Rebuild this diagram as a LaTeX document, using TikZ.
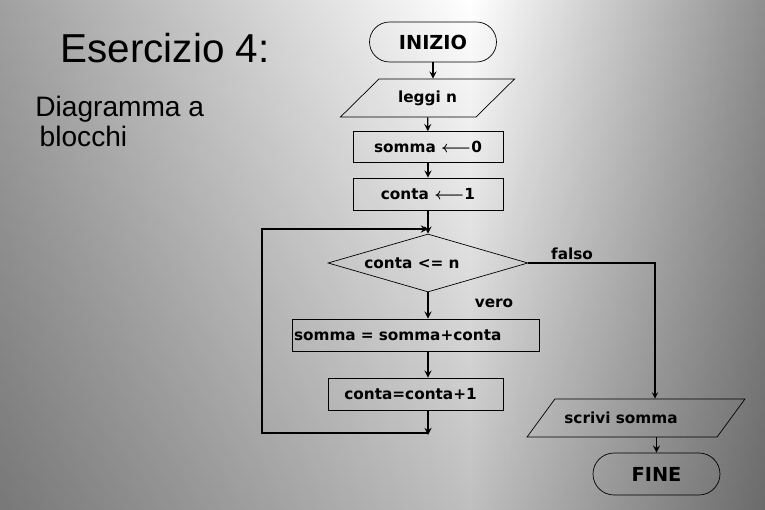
\documentclass[tikz,border=0pt]{standalone}
\usepackage{fontspec}
\setmainfont{Liberation Sans}
\newfontfamily\flowfont{DejaVu Sans}
\usetikzlibrary{shapes.geometric, arrows, positioning, fadings}

\begin{document}
\begin{tikzpicture}[x=0.02cm, y=-0.02cm,
    base/.style={draw, thin, font=\flowfont\bfseries\fontsize{8.7}{10}\selectfont},
    startstop/.style={base, rectangle, rounded corners=0.4cm, minimum width=2.54cm, minimum height=0.8cm, font=\flowfont\bfseries\fontsize{11}{12}\selectfont},
    io/.style={base, trapezium, trapezium stretches=true, trapezium left angle=43.5, trapezium right angle=136.5, minimum height=0.76cm},
    process/.style={base, rectangle, minimum width=3cm, minimum height=0.62cm},
    decision/.style={base, diamond, aspect=3.4, inner sep=0pt, minimum width=4cm, minimum height=1.16cm},
    tag/.style={font=\flowfont\bfseries\fontsize{8.7}{10}\selectfont},
    arrow/.style={->, >=stealth, thick}]

    % background
    \useasboundingbox (0,0) rectangle (765,510);
    \shade[left color=black!37, right color=white] (0,0) rectangle (470,510);
    \shade[left color=white, right color=black!44] (470,0) rectangle (765,510);
    \fill[black, opacity=0.25, path fading=north] (0,0) rectangle (765,510);

    % titles
    \node (titolo) at (165,48) {\fontsize{23}{27}\selectfont Esercizio 4:};
    \node[anchor=north west, inner sep=0pt, align=left, font=\fontsize{16}{17}\selectfont] (sottotitolo) at (35,96) {Diagramma a\\\hspace{2.5pt}blocchi};

    % flowchart
    \node[startstop] (inizio) at (433,42) {INIZIO};
    \node[io, minimum width=3.5cm] (leggi) at (427.5,98) {leggi n};
    \node[process] (azzera) at (428,147) {somma {\boldmath$\longleftarrow$}0};
    \node[process, minimum height=0.64cm] (conta) at (428,194) {conta {\boldmath$\longleftarrow$}1};
    \node[decision] (cond) at (428,263) {conta <= n\hspace*{0.64cm}};
    \node[process, minimum width=4.94cm, minimum height=0.64cm, text width=4.86cm, align=left, inner xsep=0.04cm] (somma) at (415.5,335) {somma = somma+conta};
    \node[process, minimum width=3.5cm, minimum height=0.64cm] (incr) at (415.5,394) {conta=conta+1\hspace*{0.2cm}};
    \node[io, minimum width=4.36cm, trapezium left angle=41.5, trapezium right angle=138.5] (scrivi) at (636,418) {scrivi somma\hspace*{0.6cm}};
    \node[startstop, minimum height=0.84cm, rounded corners=0.42cm] (fine) at (656.5,474) {FINE};

    \node[tag] (falso) at (572,254) {falso};
    \node[tag] (vero) at (494,303) {vero};

    \coordinate (back) at (428,435);
    \coordinate (ritorno) at (262,433);
    \coordinate (ingresso) at (428,229);

    \draw[arrow] (inizio.south) -- (inizio.south |- leggi.north);
    \draw[arrow] (leggi) -- (azzera);
    \draw[arrow] (azzera) -- (conta);
    \draw[arrow] (conta) -- (cond);
    \draw[arrow] (cond.south) -- (cond.south |- somma.north);
    \draw[arrow] (cond.south |- somma.south) -- (cond.south |- incr.north);
    \draw[arrow] (cond.south |- incr.south) -- (back);
    \draw[arrow] (back |- ritorno) -- (ritorno) |- (ingresso);
    \draw[->, >=stealth, line width=0.6pt] (cond.east) -| ([xshift=0.38cm]scrivi.north);
    \draw[arrow] (scrivi.south -| fine) -- (fine);
\end{tikzpicture}
\end{document}
